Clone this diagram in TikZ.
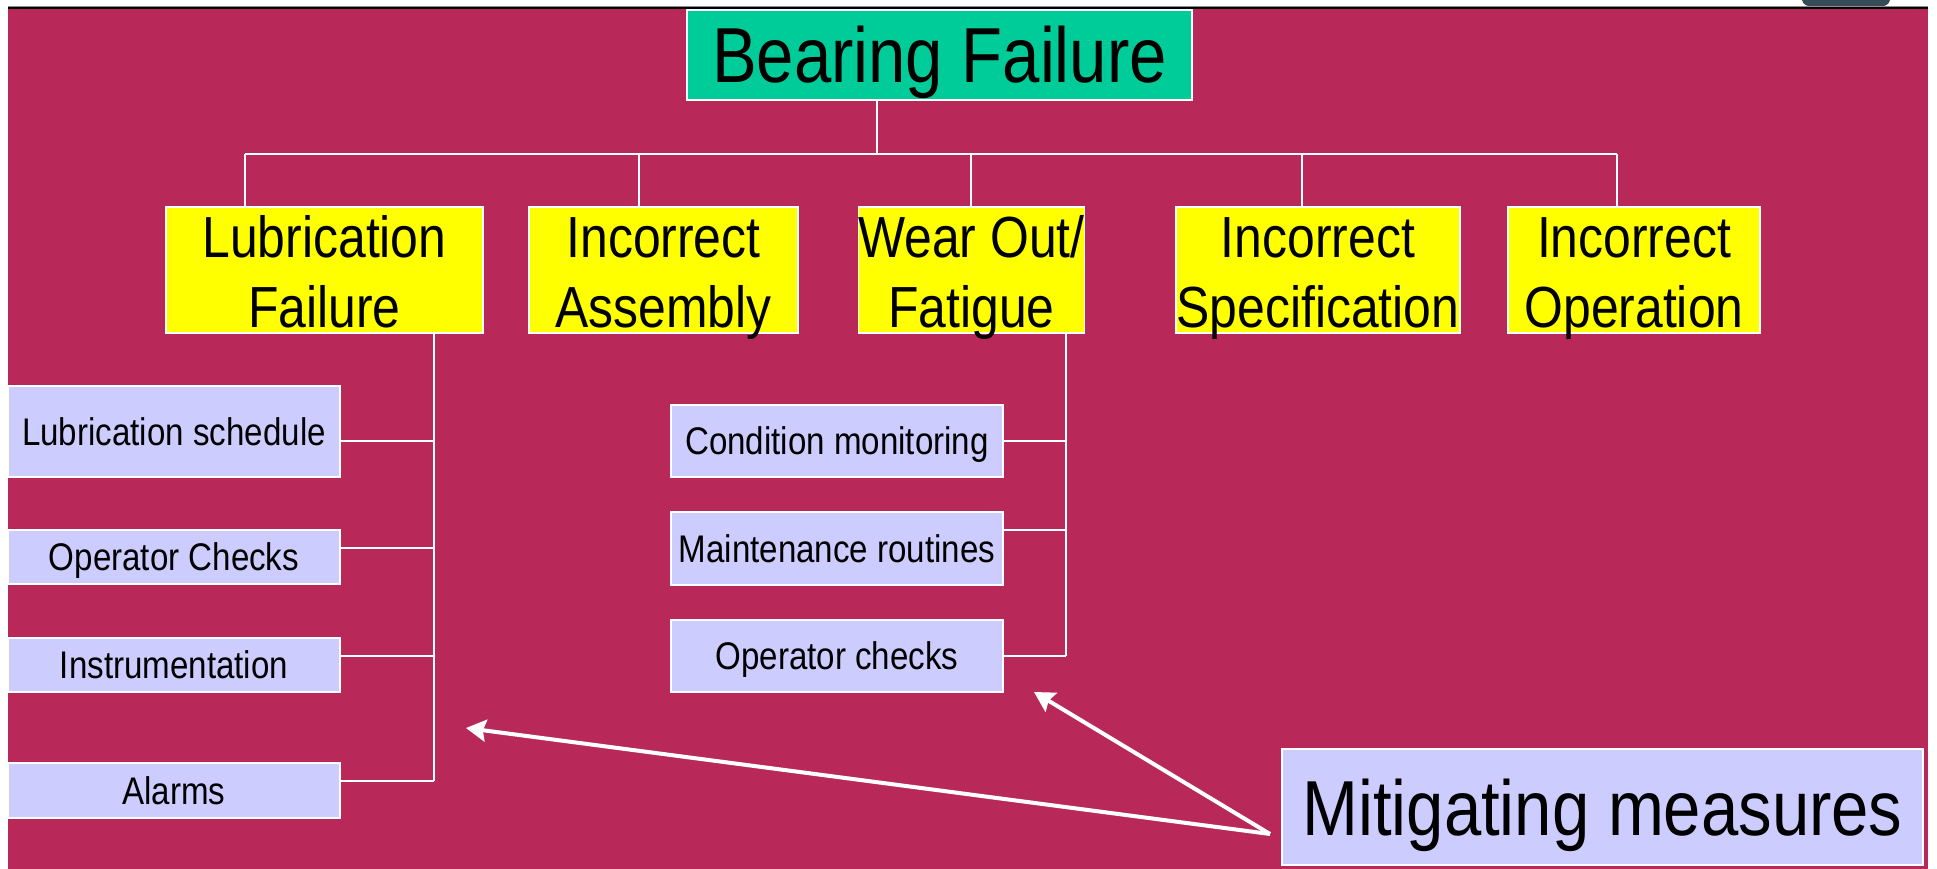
\documentclass[tikz,border=0pt]{standalone}
\usepackage{fontspec}
\setmainfont{Liberation Sans}[FakeStretch=0.86]
\usetikzlibrary{arrows.meta}
\definecolor{slidebg}{RGB}{184,41,90}
\definecolor{rootfill}{RGB}{0,204,153}
\definecolor{causefill}{RGB}{255,255,0}
\definecolor{measurefill}{RGB}{204,204,255}
\definecolor{framedark}{RGB}{55,75,88}
% two centred lines, baseline on the first one
\newcommand\twoline[2]{\vtop{\halign{\hfil##\hfil\cr#1\cr#2\cr}}}

\begin{document}
\begin{tikzpicture}[x=1pt,y=-1pt,
  box/.style={draw=white, line width=1.5pt, inner sep=0pt, text=black},
  root/.style={box, fill=rootfill, font=\fontsize{78}{90}\selectfont,
    text height=56pt, text depth=0pt},
  cause/.style={box, fill=causefill, font=\fontsize{58}{70}\selectfont,
    text height=41.5pt, text depth=66.5pt, minimum height=126pt},
  measure/.style={box, fill=measurefill, font=\fontsize{38.5}{46}\selectfont,
    text height=27.5pt, text depth=0pt},
  bigmeasure/.style={box, fill=measurefill, font=\fontsize{78}{90}\selectfont,
    text height=56pt, text depth=0pt},
  link/.style={draw=white, line width=1.5pt},
  pointer/.style={draw=white, line width=4pt,
    -{Stealth[length=20pt,width=22pt,inset=3pt]}}
]
\useasboundingbox (0,0) rectangle (1937,869);

% page and slide frame
\fill[white] (0,0) rectangle (1937,869);
\fill[framedark] (1802,0) .. controls (1803,4) and (1806,6.5) .. (1812,6.5)
  -- (1880,6.5) .. controls (1886,6.5) and (1889,4) .. (1890,0) -- cycle;
\fill[slidebg] (8,9.5) rectangle (1928,869);
\fill[black!45] (8,6) rectangle (1928,7);
\fill[black] (8,7) rectangle (1928,9.5);

% root and causes
\node[root, minimum width=505pt, minimum height=90pt] (bf) at (939.5,55) {Bearing Failure};
\node[cause, minimum width=317pt] (lf) at (324.5,270) {\twoline{Lubrication}{Failure}};
\node[cause, minimum width=269pt] (ia) at (663.5,270) {\twoline{Incorrect}{Assembly}};
\node[cause, minimum width=223pt] (wo) at (971.5,270) {\twoline{Wear Out/}{Fatigue}};
\node[cause, minimum width=284pt] (is) at (1318,270) {\twoline{Incorrect}{Specification}};
\node[cause, minimum width=252pt] (io) at (1634,270) {\twoline{Incorrect}{Operation}};

% measures under lubrication failure
\node[measure, minimum width=332pt, minimum height=91pt] (ls) at (174,431.5) {Lubrication schedule};
\node[measure, minimum width=332pt, minimum height=54pt] (oc) at (174,557) {Operator Checks};
\node[measure, minimum width=332pt, minimum height=54pt] (in) at (174,665) {Instrumentation};
\node[measure, minimum width=332pt, minimum height=55pt] (al) at (174,790.5) {Alarms};

% measures under wear out
\node[measure, minimum width=332pt, minimum height=72pt] (cm) at (837,441) {Condition monitoring};
\node[measure, minimum width=332pt, minimum height=73pt] (mr) at (837,548.5) {Maintenance routines};
\node[measure, minimum width=332pt, minimum height=72pt] (ock) at (837,656) {Operator checks};

\node[bigmeasure, minimum width=641pt, minimum height=116pt] (mm) at (1602.5,807) {Mitigating measures};

% tree connectors
\coordinate (j0) at (877,154);
\coordinate (j1) at (245,154);
\coordinate (j2) at (639,154);
\coordinate (j3) at (971,154);
\coordinate (j4) at (1302,154);
\coordinate (j5) at (1617,154);
\draw[link] (bf.south -| j0) -- (j0);
\draw[link] (j1) -- (j5);
\foreach \j/\n in {j1/lf, j2/ia, j3/wo, j4/is, j5/io}
  \draw[link] (\j) -- (\j |- \n.north);

\coordinate (sp1) at (434,781);
\draw[link] (lf.south -| sp1) -- (sp1);
\draw[link] ([yshift=-9.5pt]ls.east) -- +(94,0);
\draw[link] ([yshift=9pt]oc.east) -- +(94,0);
\draw[link] ([yshift=9pt]in.east) -- +(94,0);
\draw[link] ([yshift=9.5pt]al.east) -- (sp1);

\coordinate (sp2) at (1066,656);
\draw[link] (wo.south -| sp2) -- (sp2);
\draw[link] (cm.east) -- +(63,0);
\draw[link] ([yshift=18.5pt]mr.east) -- +(63,0);
\draw[link] (ock.east) -- (sp2);

% pointers from the label
\coordinate (src) at (1270,834);
\coordinate (tipA) at (466,728);
\coordinate (tipB) at (1034,692);
\draw[pointer] (src) -- (tipA);
\draw[pointer] (src) -- (tipB);
\end{tikzpicture}
\end{document}
